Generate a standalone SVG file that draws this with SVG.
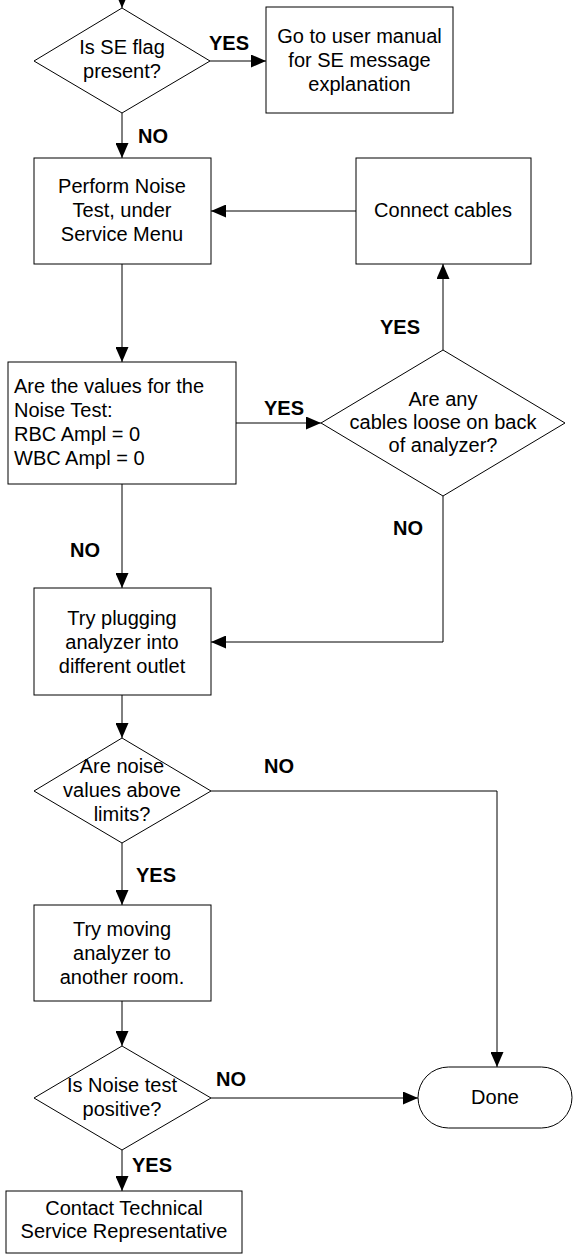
<svg xmlns="http://www.w3.org/2000/svg" width="573" height="1254" viewBox="0 0 573 1254">
<style>
.s{fill:#fff;stroke:#000;stroke-width:1}
.t{font-family:"Liberation Sans",Arial,sans-serif;font-size:20px;fill:#000}
.c{text-anchor:middle}
.b{font-family:"Liberation Sans",Arial,sans-serif;font-size:20px;font-weight:bold;fill:#000}
.e{fill:none;stroke:#000;stroke-width:1;marker-end:url(#ah)}
</style>
<defs>
<marker id="ah" markerUnits="userSpaceOnUse" markerWidth="15" markerHeight="13" refX="15" refY="6.5" orient="auto">
<path d="M0,0 L15,6.5 L0,13 z" fill="#000"/>
</marker>
</defs>
<rect width="573" height="1254" fill="#fff"/>
<g id="connectors">
<path class="e" d="M122,-10 V8"/>
<path class="e" d="M210,61 H266"/>
<path class="e" d="M122,113 V158"/>
<path class="e" d="M356,211 H211"/>
<path class="e" d="M122,264 V362"/>
<path class="e" d="M236,423 H321"/>
<path class="e" d="M443,350 V264"/>
<path class="e" d="M122,484 V588"/>
<path class="e" d="M443,496 V642 H211"/>
<path class="e" d="M122,695 V738"/>
<path class="e" d="M211,791 H497 V1067"/>
<path class="e" d="M122,843 V905"/>
<path class="e" d="M122,1001 V1046"/>
<path class="e" d="M211,1098 H418"/>
<path class="e" d="M122,1150 V1191"/>
<text class="b" x="209" y="50">YES</text>
<text class="b" x="138" y="143">NO</text>
<text class="b" x="264" y="415">YES</text>
<text class="b" x="380" y="334">YES</text>
<text class="b" x="70" y="557">NO</text>
<text class="b" x="393" y="535">NO</text>
<text class="b" x="264" y="773">NO</text>
<text class="b" x="136" y="882">YES</text>
<text class="b" x="216" y="1086">NO</text>
<text class="b" x="132" y="1172">YES</text>
</g>
<g id="d1">
<polygon class="s" points="122,8 210,61 122,113 34,61"/>
<text class="t c" x="122" y="54">Is SE flag</text>
<text class="t c" x="122" y="78">present?</text>
</g>
<g id="b1">
<rect class="s" x="266" y="7" width="187" height="106"/>
<text class="t c" x="359.5" y="43">Go to user manual</text>
<text class="t c" x="359.5" y="67">for SE message</text>
<text class="t c" x="359.5" y="91">explanation</text>
</g>
<g id="b2">
<rect class="s" x="34" y="158" width="177" height="106"/>
<text class="t c" x="122" y="193">Perform Noise</text>
<text class="t c" x="122" y="217">Test, under</text>
<text class="t c" x="122" y="241">Service Menu</text>
</g>
<g id="b_connect">
<rect class="s" x="356" y="158" width="175" height="106"/>
<text class="t c" x="443" y="217">Connect cables</text>
</g>
<g id="b3">
<rect class="s" x="8" y="362" width="228" height="122"/>
<text class="t" x="14" y="393">Are the values for the</text>
<text class="t" x="14" y="417">Noise Test:</text>
<text class="t" x="14" y="441">RBC Ampl = 0</text>
<text class="t" x="14" y="465">WBC Ampl = 0</text>
</g>
<g id="d2">
<polygon class="s" points="443,350 565,423 443,496 321,423"/>
<text class="t c" x="443" y="406">Are any</text>
<text class="t c" x="443" y="429">cables loose on back</text>
<text class="t c" x="443" y="452">of analyzer?</text>
</g>
<g id="b4">
<rect class="s" x="34" y="588" width="177" height="107"/>
<text class="t c" x="122" y="625">Try plugging</text>
<text class="t c" x="122" y="649">analyzer into</text>
<text class="t c" x="122" y="673">different outlet</text>
</g>
<g id="d3">
<polygon class="s" points="122,738 211,791 122,843 34,791"/>
<text class="t c" x="122" y="773">Are noise</text>
<text class="t c" x="122" y="797">values above</text>
<text class="t c" x="122" y="821">limits?</text>
</g>
<g id="b5">
<rect class="s" x="34" y="905" width="177" height="96"/>
<text class="t c" x="122" y="936">Try moving</text>
<text class="t c" x="122" y="960">analyzer to</text>
<text class="t c" x="122" y="984">another room.</text>
</g>
<g id="d4">
<polygon class="s" points="122,1046 211,1098 122,1150 34,1098"/>
<text class="t c" x="122" y="1092">Is Noise test</text>
<text class="t c" x="122" y="1116">positive?</text>
</g>
<g id="done">
<rect class="s" x="418" y="1067" width="154" height="61" rx="30.5" ry="30.5"/>
<text class="t c" x="495" y="1104">Done</text>
</g>
<g id="b6">
<rect class="s" x="6" y="1191" width="236" height="62"/>
<text class="t c" x="124" y="1215">Contact Technical</text>
<text class="t c" x="124" y="1238">Service Representative</text>
</g>
</svg>
